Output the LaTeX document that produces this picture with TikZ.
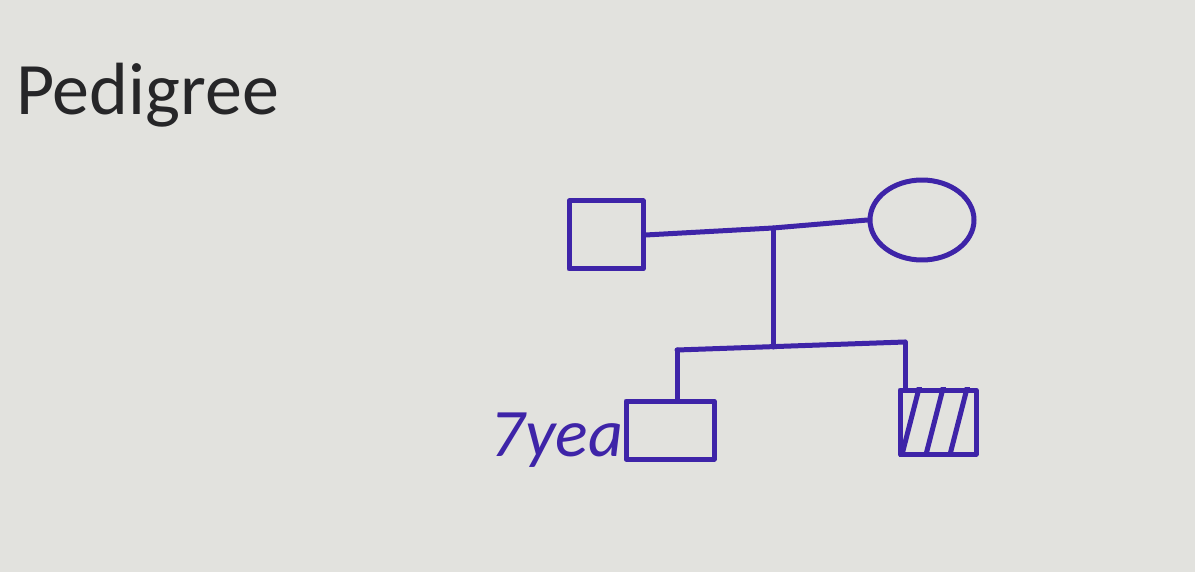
\documentclass[tikz,border=0pt]{standalone}
\usepackage{fontspec}
\setmainfont{Carlito}
\usetikzlibrary{shapes.geometric}
\definecolor{paper}{RGB}{226,226,222}
\definecolor{ink}{RGB}{62,36,168}
\definecolor{printed}{RGB}{38,38,40}
\tikzset{
  pen/.style={draw=ink, line width=5pt, line cap=round, line join=round},
  male/.style={pen, rectangle, inner sep=0pt},
  female/.style={pen, ellipse, inner sep=0pt},
}
\begin{document}
\begin{tikzpicture}[x=1pt,y=-1pt]
\fill[paper] (0,0) rectangle (1195,572);
\useasboundingbox (0,0) rectangle (1195,572);
\node[anchor=west, text=printed, font=\fontsize{74}{84}\selectfont, inner sep=0pt] (title) at (16,95) {Pedigree};
% parents
\node[male, minimum width=74pt, minimum height=68pt] (father) at (606,235) {};
\node[female, minimum width=104pt, minimum height=80pt] (mother) at (922,220) {};
\coordinate (mid) at (773,228);
\draw[pen] (father.east) -- (mid) -- (mother.west);
% descent
\coordinate (sib) at (773,347);
\draw[pen] (mid) -- (sib);
% children
\node[male, minimum width=88pt, minimum height=58pt] (son) at (670,430) {};
\node[male, minimum width=76pt, minimum height=64pt] (affected) at (938,422) {};
\begin{scope}
  \clip (affected.south west) rectangle (affected.north east);
  \foreach \dx in {4,28,52} {
    \draw[pen] ([xshift=\dx pt]affected.south west) -- ++(18,-70);
  }
\end{scope}
\coordinate (sl) at (677,350);
\coordinate (sr) at (905,342);
\draw[pen] (sl) -- (sr);
\draw[pen] (sl) -- (sl |- son.north);
\draw[pen] (sr) -- (sr |- affected.north);
\node[anchor=base east, text=ink, font=\itshape\fontsize{68}{78}\selectfont, inner sep=0pt] (age) at ([yshift=-26pt]son.west) {7yea};
\end{tikzpicture}
\end{document}
